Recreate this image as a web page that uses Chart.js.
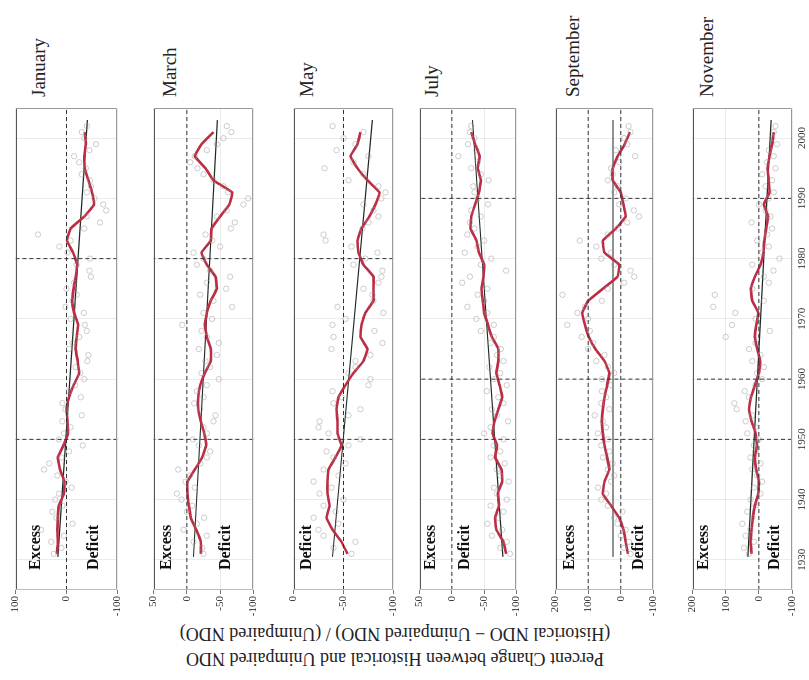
<!DOCTYPE html>
<html>
<head>
<meta charset="utf-8">
<script src="https://cdn.jsdelivr.net/npm/chart.js@4"></script>
<style>
  html, body { margin: 0; padding: 0; background: #fff; overflow: hidden; }
  /* the figure is laid out upright (680 x 809) and turned a quarter left */
  #fig { position: absolute; left: 0; top: 0; width: 680px; height: 809px;
         transform-origin: 0 0; transform: translate(0, 680px) rotate(-90deg);
         font-family: 'Liberation Serif', 'Times New Roman', serif; color: #222; }
  #fig canvas { position: absolute; left: 0; }
  .month { position: absolute; left: 583px; font-size: 19px; line-height: 22px; white-space: nowrap; }
  #ytitle { position: absolute; width: 520px; height: 50px; left: -226px; top: 370px;
            transform: rotate(-90deg); text-align: center; font-size: 18px; line-height: 25px; white-space: nowrap; }
</style>
</head>
<body>
<div id="fig">
  <div id="ytitle">Percent Change between Historical and Unimpaired NDO<br>(Historical NDO &minus; Unimpaired NDO) / (Unimpaired NDO)</div>
</div>
<script>
// years of the running mean (red line)
const redYears = [1931, 1933, 1935, 1937, 1939, 1941, 1943, 1945, 1947, 1949,
  1951, 1953, 1955, 1957, 1959, 1961, 1963, 1965, 1967, 1969,
  1971, 1973, 1975, 1977, 1979, 1981, 1983, 1985, 1987, 1989,
  1991, 1993, 1995, 1997, 1999, 2001];

// years of the single-year points
const ptYears = [1931, 1932, 1933, 1934, 1935, 1936, 1937, 1938, 1939, 1940,
  1941, 1942, 1943, 1944, 1945, 1946, 1947, 1948, 1949, 1950,
  1951, 1952, 1953, 1954, 1955, 1956, 1957, 1958, 1959, 1960,
  1961, 1962, 1963, 1964, 1965, 1966, 1967, 1968, 1969, 1970,
  1971, 1972, 1973, 1974, 1975, 1976, 1977, 1978, 1979, 1980,
  1981, 1982, 1983, 1984, 1985, 1986, 1987, 1988, 1989, 1990,
  1991, 1992, 1993, 1994, 1995, 1996, 1997, 1998, 1999, 2000,
  2001, 2002];

const trendYears = [1930.5, 2003];
const yearTicks = [1930, 1940, 1950, 1960, 1970, 1980, 1990, 2000];

// January
const janRed = [19, 17, 18, 17, 15, 5, 4, 13, 17, 6,
  -3, -2, 0, -5, -14, -25, -22, -18, -20, -23,
  -15, -11, -14, -18, -21, -13, -1, -8, -35, -54,
  -50, -43, -36, -35, -38, -36];
const janPts = [25, 10, 30, 5, 50, -12, 20, 28, 8, 22,
  15, -10, 2, 18, 44, 34, 10, -5, -32, 15,
  5, -8, 8, -30, 2, 8, -28, -5, -17, -35,
  -27, -18, -41, -43, -5, -12, -25, -40, -36, -8,
  -34, 2, -12, -20, 0, -15, -48, -45, -20, -46,
  -2, 14, -8, 56, -35, -66, -40, -78, -72, -55,
  -40, -48, -46, -30, -38, -25, -15, -45, -58, -35,
  -30, -40];
const janTrend = [17, -41];

// March
const marRed = [-21, -21, -14, -6, -3, -1, -1, -12, -23, -29,
  -26, -21, -17, -17, -20, -27, -36, -36, -30, -27,
  -30, -36, -45, -43, -30, -22, -36, -37, -50, -64,
  -68, -40, -28, -12, -22, -40];
const marPts = [-25, -23, -10, -30, 5, -15, -26, 0, -8, 8,
  15, -12, 2, -5, 13, -20, -30, -35, -18, -9,
  -30, -25, -40, -43, -20, -11, -25, -15, -30, -48,
  -22, -35, -28, -45, -18, -48, -30, -22, 7, -38,
  -25, -68, -40, -20, -59, -30, -65, -35, -15, -25,
  -10, -50, -38, -28, -66, -72, -45, -60, -85, -92,
  -62, -55, -40, -25, -16, -5, -12, -30, -45, -55,
  -67, -60];
const marTrend = [-10, -46];

// May
const mayRed = [-54, -48, -39, -33, -36, -34, -34, -35, -42, -48,
  -44, -44, -43, -45, -52, -60, -70, -74, -67, -68,
  -72, -80, -80, -80, -70, -65, -64, -68, -76, -82,
  -86, -74, -64, -57, -64, -67];
const mayPts = [-58, -40, -62, -30, -25, -45, -20, -42, -30, -50,
  -26, -38, -20, -45, -30, -52, -40, -33, -55, -67,
  -35, -25, -26, -55, -67, -40, -48, -39, -75, -77,
  -55, -62, -62, -77, -38, -89, -40, -81, -39, -52,
  -90, -44, -80, -79, -70, -85, -88, -89, -60, -72,
  -84, -58, -32, -30, -69, -75, -85, -80, -70, -88,
  -92, -85, -55, -70, -31, -60, -75, -43, -62, -50,
  -70, -39];
const mayTrend = [-39, -79];

// July
const julRed = [-84, -80, -69, -67, -73, -71, -78, -77, -67, -70,
  -63, -66, -72, -78, -74, -69, -72, -72, -62, -56,
  -50, -48, -46, -49, -50, -42, -38, -29, -30, -36,
  -42, -45, -40, -43, -36, -30];
const julPts = [-90, -75, -85, -62, -78, -55, -72, -80, -60, -85,
  -70, -65, -88, -75, -70, -82, -60, -75, -65, -80,
  -50, -60, -87, -70, -62, -80, -72, -54, -85, -65,
  -75, -58, -80, -70, -76, -60, -65, -45, -65, -38,
  -55, -24, -50, -40, -55, -16, -28, -84, -45, -61,
  -20, -40, -50, -24, -35, -28, -45, -30, -56, -40,
  -35, -33, -57, -45, -30, -40, -10, -38, -25, -35,
  -28, -30];
const julTrend = [-79, -32];

// September
const sepRed = [-22, -15, -8, 5, 30, 55, 50, 35, 42, 50,
  55, 58, 55, 50, 42, 35, 50, 78, 98, 110,
  118, 100, 55, 10, 5, 50, 55, 15, -15, -8,
  0, 25, 25, 10, -12, -28];
const sepPts = [-30, -10, -25, 0, -15, 10, 20, -5, 40, 60,
  45, 70, 30, 20, 40, 25, 55, 35, 60, 40,
  70, 45, 55, 80, 35, 60, 45, 58, 30, 58,
  20, 40, 75, 50, 100, 85, 120, 95, 164, 100,
  133, 110, 58, 179, 40, -10, -41, -30, 20, 60,
  30, 75, 126, 40, 10, -20, -56, -40, 5, -15,
  20, 10, 40, 25, 30, 5, -44, 15, -20, -10,
  -30, -24];
const sepTrend = [24, 24];

// November
const novRed = [22, 25, 22, 18, 12, 2, 0, 8, 12, 6,
  10, 22, 30, 24, 12, 0, -4, 5, 12, 8,
  2, 20, 24, 12, -5, -14, -16, -22, -28, -15,
  -32, -30, -26, -32, -40, -45];
const novPts = [30, 45, 15, 40, 25, 50, 20, 35, 10, 25,
  -5, 15, -10, 5, 20, -5, 25, 10, 15, 0,
  35, 10, 40, 20, 67, 74, 30, 43, 10, -10,
  5, -15, 20, -5, 30, 10, 100, -33, 81, 10,
  71, 138, -15, 133, 20, -30, -15, -44, 20, -62,
  -10, -30, 5, -25, -40, 22, -35, -20, 0, -30,
  -45, -20, -40, -10, -50, -25, -45, -30, -55, -40,
  -45, -50];
const novTrend = [33, -37];

Chart.defaults.font.family = "'Liberation Serif', 'Times New Roman', serif";

// panel layout: top/bottom of each plot in the upright figure, value range, marks
const panels = [
  { name: 'January', top: 13, bottom: 120, min: -100, max: 100, step: 100, red: janRed, pts: janPts, trend: janTrend,
    refYears: [1950, 1980], refVals: [0], notes: [['Excess', 61], ['Deficit', -54]], titleY: 39 },
  { name: 'March', top: 151, bottom: 256, min: -100, max: 50, step: 50, red: marRed, pts: marPts, trend: marTrend,
    refYears: [1950, 1980], refVals: [0], notes: [['Excess', 30], ['Deficit', -59]], titleY: 170 },
  { name: 'May', top: 291, bottom: 396, min: -100, max: 0, step: 50, red: mayRed, pts: mayPts, trend: mayTrend,
    refYears: [1950, 1980], refVals: [-50], notes: [['Deficit', -13]], titleY: 307 },
  { name: 'July', top: 417, bottom: 519, min: -100, max: 50, step: 50, red: julRed, pts: julPts, trend: julTrend,
    refYears: [1950, 1960, 1990], refVals: [0], notes: [['Excess', 33], ['Deficit', -20]], titleY: 432 },
  { name: 'September', top: 553, bottom: 656, min: -100, max: 200, step: 100, red: sepRed, pts: sepPts, trend: sepTrend,
    refYears: [1950, 1960, 1990], refVals: [100, 0], notes: [['Excess', 156], ['Deficit', -54]], titleY: 573 },
  { name: 'November', top: 690, bottom: 792, min: -100, max: 200, step: 100, red: novRed, pts: novPts, trend: novTrend,
    refYears: [1950, 1960, 1990], refVals: [0], notes: [['Excess', 165], ['Deficit', -47]], titleY: 707 }
];

// plot frame and the Excess / Deficit words
const framePlugin = {
  id: 'frameNotes',
  afterDatasetsDraw(chart, args, opts) {
    const { ctx, chartArea: a, scales: { x, y } } = chart;
    const L = Math.round(a.left) + 0.5, R = Math.round(a.right) - 0.5;
    const T = Math.round(a.top) + 0.5, B = Math.round(a.bottom) - 0.5;
    ctx.save();
    ctx.lineWidth = 1;
    ctx.strokeStyle = '#555';
    ctx.beginPath(); ctx.moveTo(L, T); ctx.lineTo(R, T); ctx.stroke();
    ctx.strokeStyle = '#999';
    ctx.beginPath(); ctx.moveTo(L, B); ctx.lineTo(R, B); ctx.stroke();
    ctx.beginPath(); ctx.moveTo(R, T); ctx.lineTo(R, B); ctx.stroke();
    ctx.strokeStyle = '#bbb';
    ctx.beginPath(); ctx.moveTo(L, T); ctx.lineTo(L, B); ctx.stroke();

    ctx.font = "bold 16px 'Liberation Serif', serif";
    ctx.fillStyle = '#111';
    ctx.textAlign = 'left';
    ctx.textBaseline = 'middle';
    opts.notes.forEach(([t, v]) => ctx.fillText(t, x.getPixelForValue(1928.3), y.getPixelForValue(v)));
    ctx.restore();
  }
};

const fig = document.getElementById('fig');

panels.forEach((p, i) => {
  const last = i === panels.length - 1;
  const padT = 6, padB = last ? 0 : 6, axisH = last ? 20 : 0;

  const title = document.createElement('div');
  title.className = 'month';
  title.textContent = p.name;
  title.style.top = (p.titleY - 11) + 'px';
  fig.appendChild(title);

  const canvas = document.createElement('canvas');
  canvas.width = 680;
  canvas.height = (p.bottom - p.top) + padT + padB + axisH;
  canvas.style.top = (p.top - padT) + 'px';
  fig.appendChild(canvas);

  const datasets = [];
  datasets.push({
    data: ptYears.map((yr, k) => ({ x: yr, y: p.pts[k] })),
    showLine: false, pointRadius: 2.7, pointBorderWidth: 0.8,
    pointBorderColor: 'rgba(150,150,150,0.6)', pointBackgroundColor: 'rgba(0,0,0,0)'
  });
  p.refYears.forEach(yr => datasets.push({
    data: [{ x: yr, y: p.min }, { x: yr, y: p.max }],
    borderColor: '#333', borderWidth: 1, borderDash: [4, 3], pointRadius: 0
  }));
  p.refVals.forEach(v => datasets.push({
    data: [{ x: 1925, y: v }, { x: 2005, y: v }],
    borderColor: '#333', borderWidth: 1, borderDash: [4, 3], pointRadius: 0
  }));
  datasets.push({
    data: redYears.map((yr, k) => ({ x: yr, y: p.red[k] })),
    borderColor: '#bb2e45', borderWidth: 2.6, pointRadius: 0, tension: 0.1
  });
  datasets.push({
    data: trendYears.map((yr, k) => ({ x: yr, y: p.trend[k] })),
    borderColor: '#1d2a22', borderWidth: 1.2, pointRadius: 0
  });

  new Chart(canvas, {
    type: 'line',
    data: { datasets },
    plugins: [framePlugin],
    options: {
      responsive: false,
      animation: false,
      devicePixelRatio: 1,
      layout: { padding: { left: 0, right: 108, top: padT, bottom: padB } },
      plugins: {
        legend: { display: false },
        tooltip: { enabled: false },
        frameNotes: { notes: p.notes }
      },
      scales: {
        x: {
          type: 'linear', min: 1925, max: 2005,
          afterFit: s => { s.height = axisH; },
          border: { display: false },
          grid: { color: 'rgba(0,0,0,0.08)', drawTicks: false },
          afterBuildTicks: s => { s.ticks = yearTicks.map(v => ({ value: v })); },
          ticks: { display: last, padding: 4, color: '#333', font: { size: 11 }, maxRotation: 0,
                   callback: v => String(v) }
        },
        y: {
          min: p.min, max: p.max,
          afterFit: s => { s.width = 90; },
          border: { display: false },
          grid: { color: 'rgba(0,0,0,0.08)', tickColor: '#777', tickLength: 4 },
          ticks: { stepSize: p.step, padding: 2, color: '#333', font: { size: 11 },
                   callback: v => String(v) }
        }
      }
    }
  });
});
</script>
</body>
</html>
